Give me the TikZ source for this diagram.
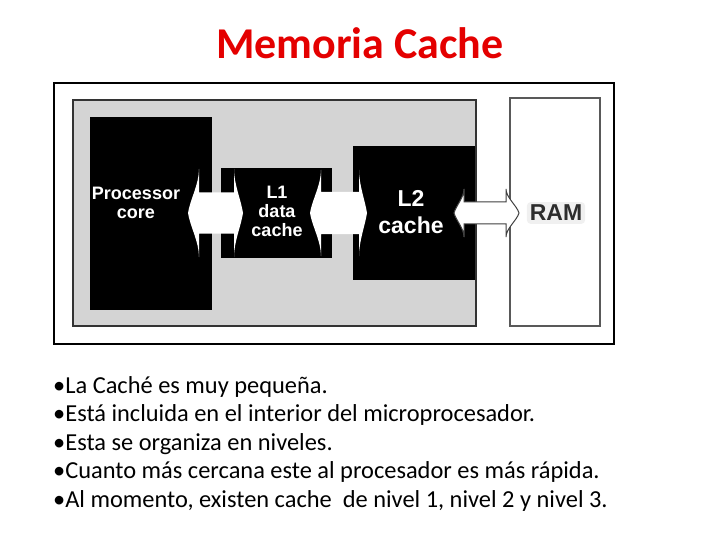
\documentclass[tikz,border=0pt]{standalone}
\usepackage{fontspec}
\setmainfont{Carlito}
\newfontfamily\arialf{Liberation Sans}
\definecolor{titlered}{RGB}{228,0,0}
\definecolor{panelgray}{RGB}{212,212,212}
\definecolor{ramtext}{RGB}{45,45,45}
\newcommand{\dblarr}[7]{%
  \path[#7] (#1,213) .. controls (#1+2,213-0.3*#6) and (#2,213-0.65*#6) .. (#2,213-#6)
    -- (#2,213-#5) -- (#3,213-#5) -- (#3,213-#6)
    .. controls (#3,213-0.65*#6) and (#4-2,213-0.3*#6) .. (#4,213)
    .. controls (#4-2,213+0.3*#6) and (#3,213+0.65*#6) .. (#3,213+#6)
    -- (#3,213+#5) -- (#2,213+#5) -- (#2,213+#6)
    .. controls (#2,213+0.65*#6) and (#1+2,213+0.3*#6) .. cycle;}
\begin{document}
\begin{tikzpicture}[x=1pt,y=-1pt,
  box/.style={anchor=north west, inner sep=0pt, outer sep=0pt},
  blk/.style={box, fill=black},
  lbl/.style={text=white, font=\arialf\bfseries, align=center, inner sep=0pt},
  bullet/.style={anchor=base west, inner sep=0pt, font=\fontsize{24.4}{28}\selectfont}]
\useasboundingbox (0,0) rectangle (720,540);
\fill[white] (0,0) rectangle (720,540);
\node[anchor=base, inner sep=0pt, text=titlered, font=\bfseries\fontsize{44}{50}\selectfont] (title) at (360,59) {Memoria Cache};
% frame
\node[box, draw=black, line width=1.5pt, minimum width=560, minimum height=261] (frame) at (54,83) {};
\node[box, draw=black!80, line width=2pt, fill=panelgray, minimum width=403, minimum height=226] (panel) at (73,100) {};
\node[box, draw=black!65, line width=2pt, fill=white, minimum width=90, minimum height=228] (ram) at (510,98) {};
\node[blk, minimum width=122, minimum height=193] (core) at (90,117) {};
\node[blk, minimum width=111, minimum height=90] (l1) at (221,168) {};
\node[blk, minimum width=122, minimum height=134] (l2) at (353,146) {};
% arrows
\dblarr{188}{199}{234}{243}{20.5}{44}{fill=white}
\dblarr{310}{321}{359}{367}{21}{43}{fill=white}
\dblarr{454}{464}{506}{519}{11}{24}{fill=white, draw=black!75, line width=1pt}
% labels
\node[lbl, font=\arialf\bfseries\fontsize{18}{19}\selectfont] (coretxt) at (136,203) {Processor\\core};
\node[lbl, font=\arialf\bfseries\fontsize{18}{19}\selectfont] (l1txt) at (277,211) {L1\\data\\cache};
\node[lbl, font=\arialf\bfseries\fontsize{23}{27}\selectfont] (l2txt) at (411,212) {L2\\cache};
\node[inner sep=3pt, fill=black!6, rounded corners=4pt, text=ramtext, font=\arialf\bfseries\fontsize{23}{27}\selectfont] (ramtxt) at (556,213) {RAM};
% bullets
\node[bullet] (b1) at (53,393) {•La Caché es muy pequeña.};
\node[bullet] (b2) at (53,421.5) {•Está incluida en el interior del microprocesador.};
\node[bullet] (b3) at (53,450) {•Esta se organiza en niveles.};
\node[bullet] (b4) at (53,478.5) {•Cuanto más cercana este al procesador es más rápida.};
\node[bullet] (b5) at (53,507) {•Al momento, existen cache\ \ de nivel 1, nivel 2 y nivel 3.};
\end{tikzpicture}
\end{document}
